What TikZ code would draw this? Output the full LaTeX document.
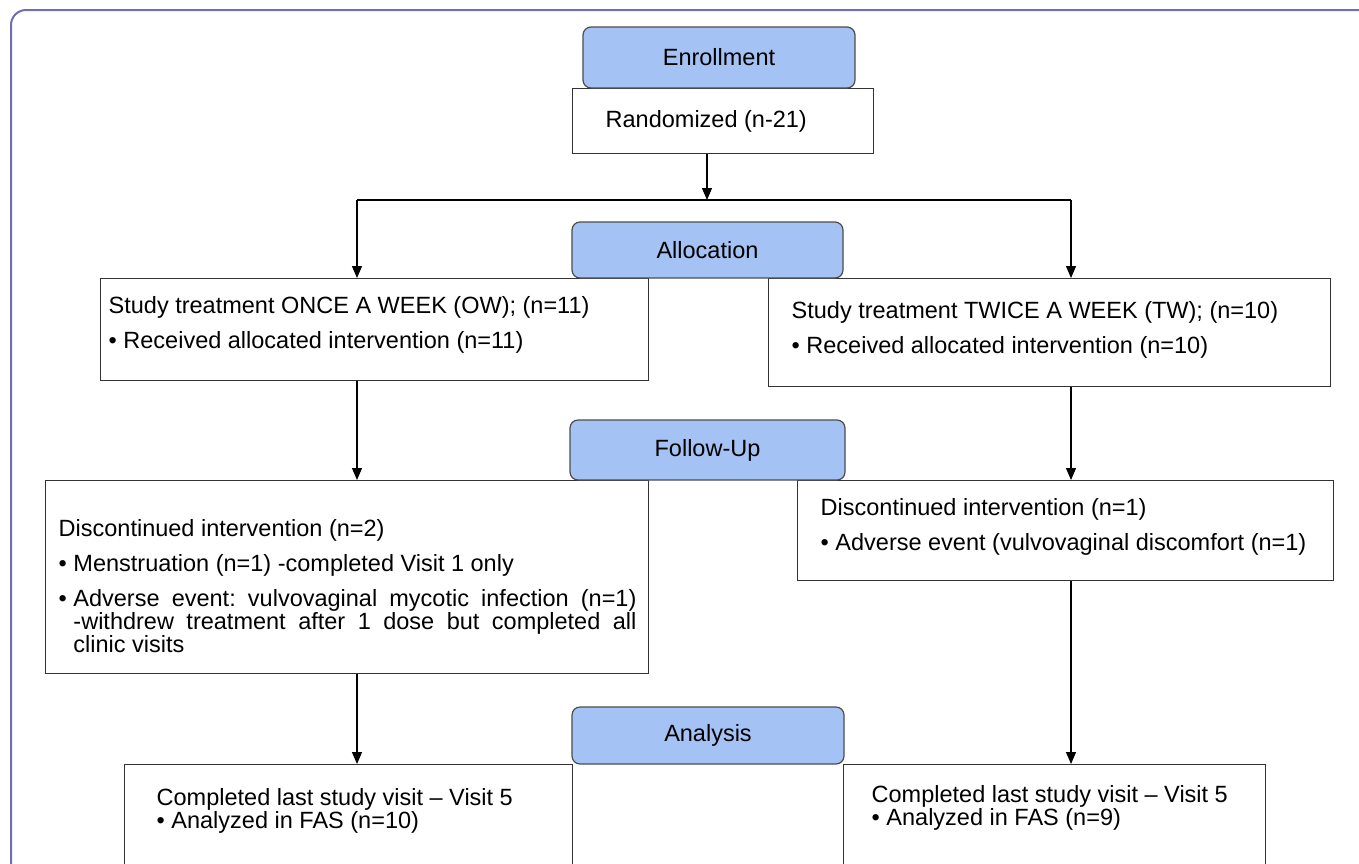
\documentclass[tikz,border=0pt]{standalone}
\usepackage{fontspec}
\setmainfont{Liberation Sans}
\usetikzlibrary{positioning, arrows.meta}
\definecolor{phaseblue}{RGB}{164,194,244}
\definecolor{framecol}{RGB}{112,108,182}
\newcommand{\boxtext}[4]{\parbox[c][#2pt][t]{#1pt}{\frenchspacing\leftskip=#3pt #4}}

\begin{document}
\begin{tikzpicture}[
    x=1pt, y=-1pt,
    every node/.style={font=\fontsize{23.5}{35}\selectfont},
    phase/.style={draw=black!70, fill=phaseblue, rounded corners=8pt, line width=1.2pt, inner sep=0pt},
    stepbox/.style={draw=black!80, fill=white, line width=1.4pt, anchor=north west, inner xsep=0pt},
    link/.style={-{Triangle[length=12pt, width=10pt]}, line width=1.2pt}
  ]
  \clip (0,0) rectangle (1359,863);
  \draw[framecol, line width=2pt, rounded corners=15pt] (11,880) -- (11,10) -- (1380,10);

  % boxes
  \node[stepbox, inner ysep=22pt] (rand) at (572,88) {\boxtext{301}{21}{33}{Randomized (n-21)}};
  \node[stepbox, inner ysep=18pt] (ow) at (100,278) {\boxtext{548}{66}{8}{Study treatment ONCE A WEEK (OW); (n=11)\\
    • Received allocated intervention (n=11)}};
  \node[stepbox, inner ysep=23pt] (tw) at (768,278) {\boxtext{562}{62}{23}{Study treatment TWICE A WEEK (TW); (n=10)\\
    • Received allocated intervention (n=10)}};
  \node[stepbox, inner ysep=39pt] (disc1) at (45,480) {\boxtext{603}{115}{13}{Discontinued intervention (n=2)\\
    • Menstruation (n=1) -completed Visit 1 only\\
    • \parbox[t]{563pt}{\frenchspacing\fontsize{23.5}{20}\selectfont
      \makebox[563pt][s]{Adverse event: vulvovaginal mycotic infection (n=1)}\\
      \makebox[563pt][s]{-withdrew treatment after 1 dose but completed all}\\
      clinic visits}}};
  \node[stepbox, inner ysep=18pt] (disc2) at (797,480) {\boxtext{536}{64}{23}{Discontinued intervention (n=1)\\
    • Adverse event (vulvovaginal discomfort (n=1)}};
  \node[stepbox, inner ysep=24pt] (done1) at (124,764) {\boxtext{448}{102}{32}{\baselineskip=21pt
    Completed last study visit – Visit 5\\
    • Analyzed in FAS (n=10)}};
  \node[stepbox, inner ysep=21pt] (done2) at (843,764) {\boxtext{422}{108}{28}{\baselineskip=21pt
    Completed last study visit – Visit 5\\
    • Analyzed in FAS (n=9)}};

  % phase labels
  \node[phase, minimum width=272pt, minimum height=61pt] (enroll) at (719,57.5) {Enrollment};
  \node[phase, minimum width=271pt, minimum height=56pt] (alloc) at (707.5,250) {Allocation};
  \node[phase, minimum width=275pt, minimum height=60pt] (follow) at (707.5,450) {Follow-Up};
  \node[phase, minimum width=272pt, minimum height=57pt] (analysis) at (708,735.5) {Analysis};

  % connectors
  \coordinate (split) at (707,200);
  \coordinate (splitl) at (357,200);
  \coordinate (splitr) at (1071,200);
  \draw[link] (split |- rand.south) -- (split);
  \draw[line width=1.2pt] (splitl) -- (splitr);
  \draw[link] (splitl) -- (splitl |- ow.north);
  \draw[link] (splitr) -- (splitr |- tw.north);
  \draw[link] (splitl |- ow.south) -- (splitl |- disc1.north);
  \draw[link] (splitr |- tw.south) -- (splitr |- disc2.north);
  \draw[link] (splitl |- disc1.south) -- (splitl |- done1.north);
  \draw[link] (splitr |- disc2.south) -- (splitr |- done2.north);
\end{tikzpicture}
\end{document}
